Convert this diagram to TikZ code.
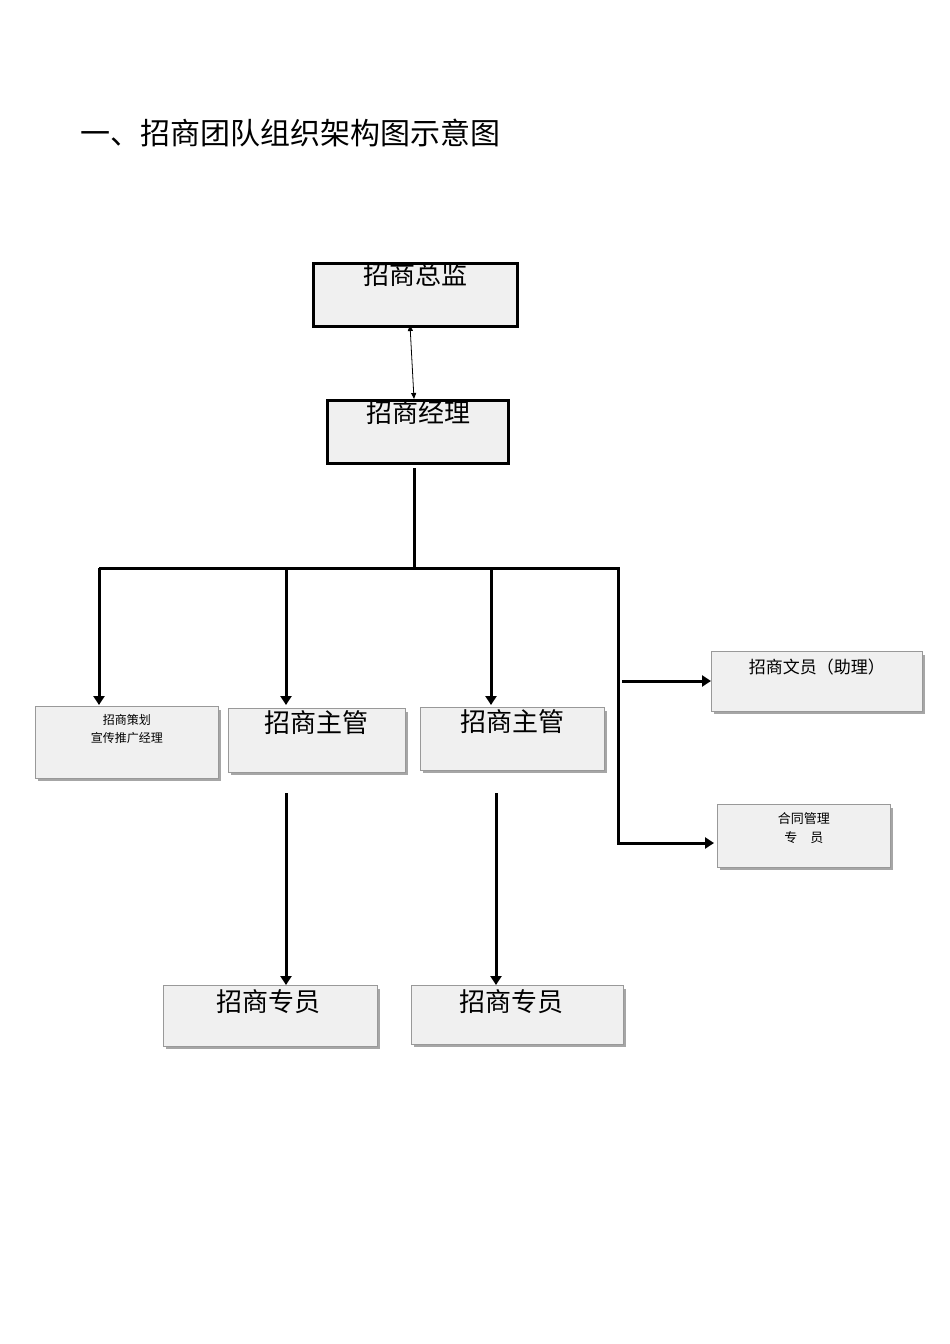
\documentclass[tikz,border=0pt]{standalone}
\usepackage{fontspec}
\newfontfamily\cjk{Noto Sans CJK SC}
\usetikzlibrary{arrows.meta}
\begin{document}
\begin{tikzpicture}[x=1pt,y=-1pt,
  bx/.style={draw=gray!80,fill=gray!12,line width=0.6pt,inner sep=0pt,anchor=north west},
  shadowline/.style={gray!70,line width=2.5pt},
  thick line/.style={line width=3pt},
  arr/.style={line width=3pt,-{Triangle[length=9pt,width=11pt]}},
  txt/.style={font=\cjk,inner sep=0pt,anchor=north}]
\useasboundingbox (0,0) rectangle (950,1344);
\node[font=\cjk\fontsize{30}{32}\selectfont,anchor=west,inner sep=0pt] (title) at (80,133) {一、招商团队组织架构图示意图};
% helper macro for boxes
\newcommand{\mybox}[6]{%
  \draw[shadowline] (#1+3,#4+2) -- (#3+2,#4+2) -- (#3+2,#2+4);
  \node[bx,minimum width=#3-#1,minimum height=#4-#2,#6] (#5) at (#1,#2) {};}
\mybox{312}{262}{516}{325}{zj}{draw=black,line width=3pt}
\mybox{326}{399}{507}{462}{jl}{draw=black,line width=3pt}
\mybox{35}{706}{218}{778}{ch}{}
\mybox{228}{708}{405}{772}{zg1}{}
\mybox{420}{707}{604}{770}{zg2}{}
\mybox{711}{651}{922}{711}{wy}{}
\mybox{717}{804}{890}{867}{ht}{}
\mybox{163}{985}{377}{1046}{zy1}{}
\mybox{411}{985}{623}{1044}{zy2}{}
\node[txt,font=\cjk\fontsize{26}{28}\selectfont] at (zj.north) {招商总监};
\node[txt,font=\cjk\fontsize{26}{28}\selectfont] at ([yshift=-1]jl.north) {招商经理};
\node[txt,font=\cjk\fontsize{12}{18}\selectfont,align=center] at ([yshift=-8]ch.north) {招商策划\\宣传推广经理};
\node[txt,font=\cjk\fontsize{26}{28}\selectfont] at ([yshift=-2]zg1.north) {招商主管};
\node[txt,font=\cjk\fontsize{26}{28}\selectfont] at ([yshift=-2]zg2.north) {招商主管};
\node[txt,font=\cjk\fontsize{17}{20}\selectfont] at ([yshift=-8]wy.north) {招商文员（助理）};
\node[txt,font=\cjk\fontsize{13}{19}\selectfont,align=center] at ([yshift=-8]ht.north) {合同管理\\专\quad 员};
\node[txt,font=\cjk\fontsize{26}{28}\selectfont] at ([yshift=-4,xshift=-2]zy1.north) {招商专员};
\node[txt,font=\cjk\fontsize{26}{28}\selectfont] at ([yshift=-4,xshift=-6]zy2.north) {招商专员};
% connectors
\coordinate (b0) at (414,468); \coordinate (b1) at (414,568);
\coordinate (hl) at (99,568); \coordinate (hr) at (618,568); \coordinate (vb) at (618,845);
\draw[{Triangle[length=6pt,width=5pt]}-{Triangle[length=6pt,width=5pt]},line width=0.8pt] (410,325) -- (414,399);
\draw[thick line] (b0) -- (b1);
\draw[thick line] (hl) -- (hr) -- (vb);
\draw[arr] (hl) -- (99,705);
\draw[arr] (286,568) -- (286,705);
\draw[arr] (491,568) -- (491,705);
\draw[arr] (622,681) -- (711,681);
\draw[arr] (618,843) -- (714,843);
\draw[arr] (286,793) -- (286,985);
\draw[arr] (496,793) -- (496,985);
\end{tikzpicture}
\end{document}
